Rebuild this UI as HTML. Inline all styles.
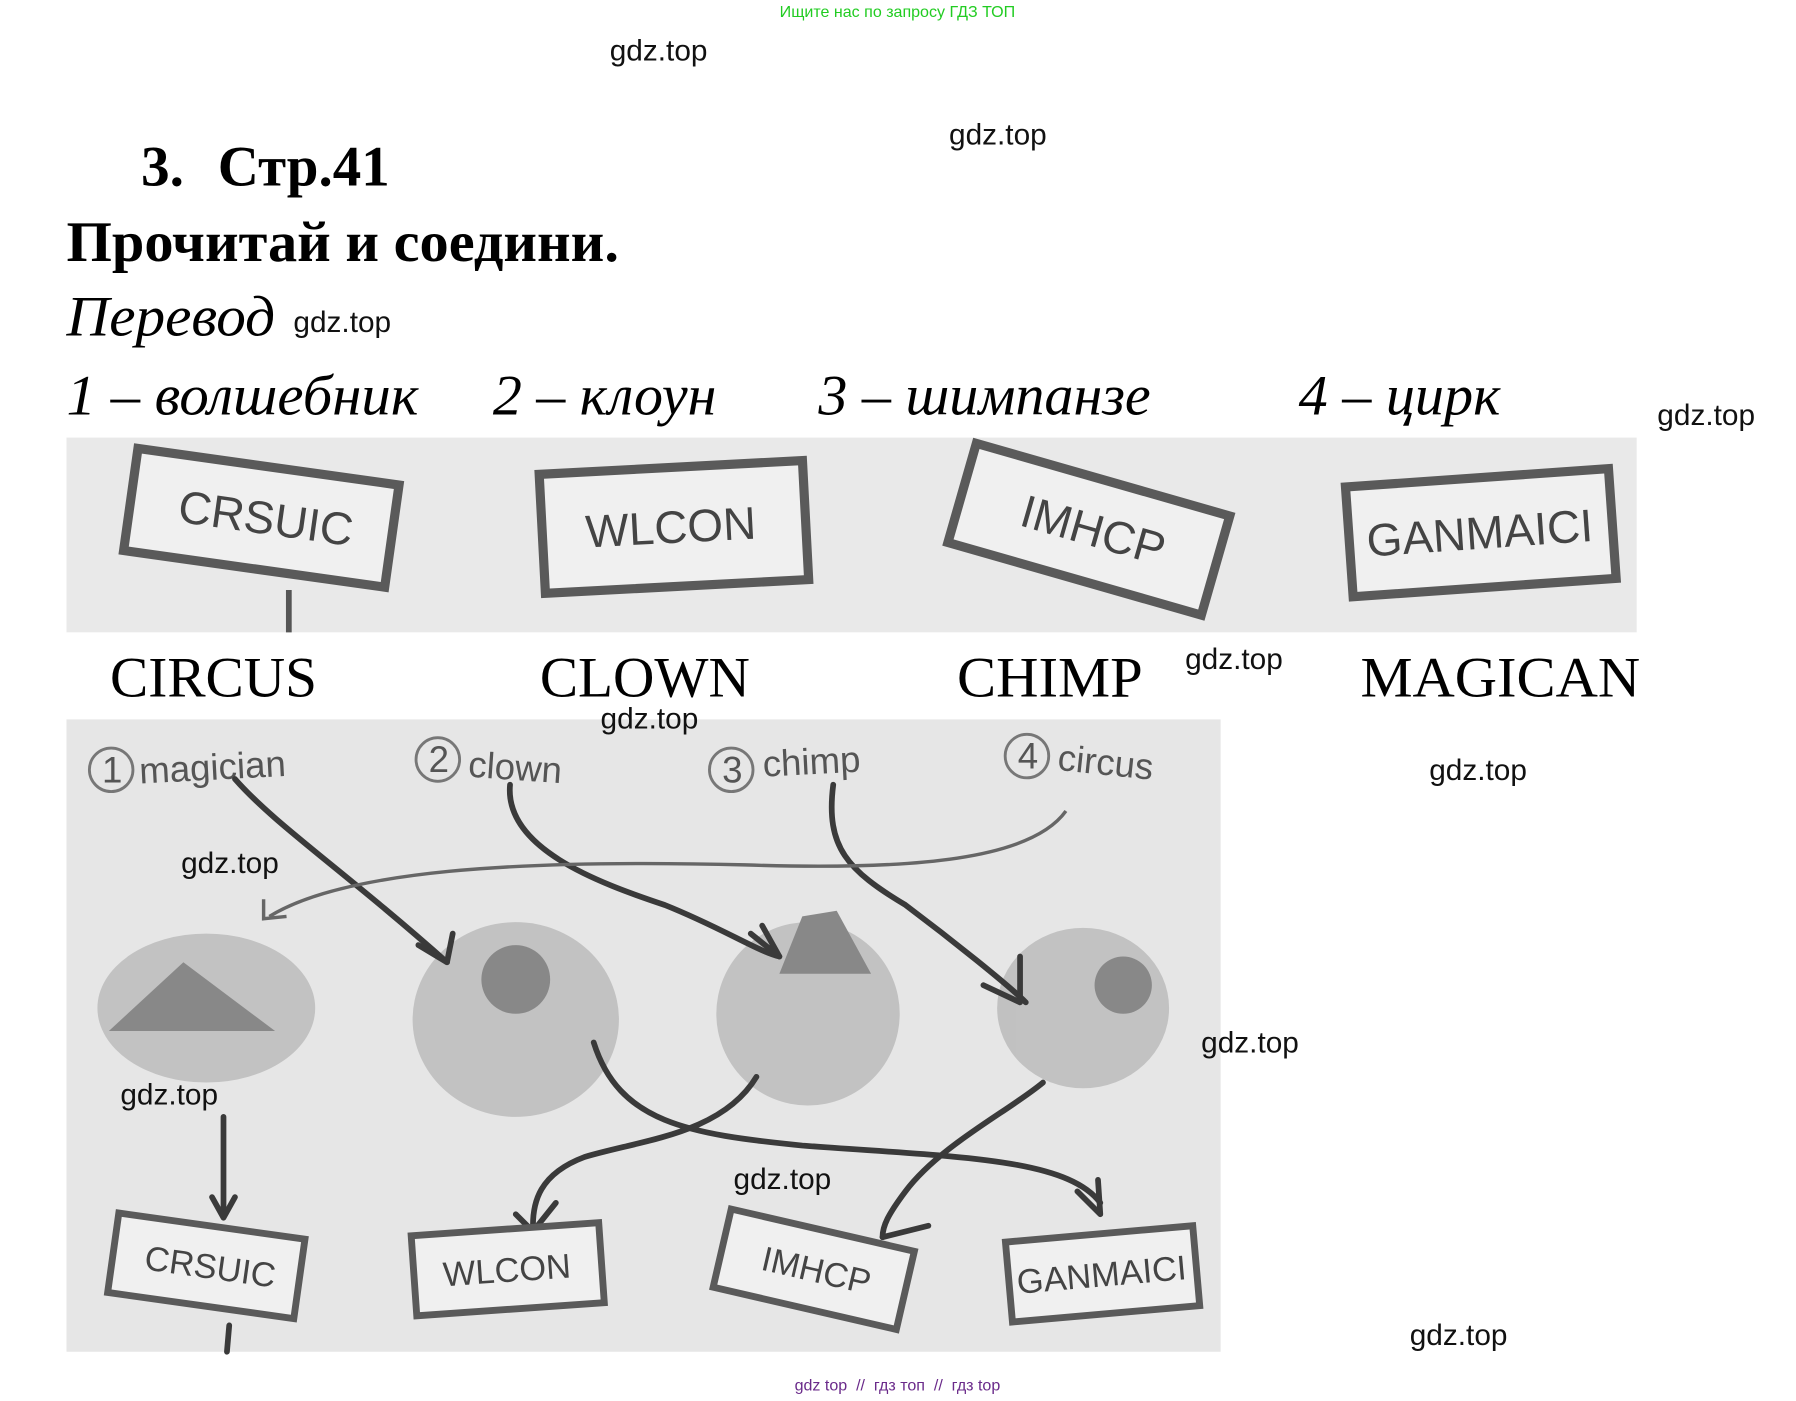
<!DOCTYPE html>
<html><head><meta charset="utf-8"><style>
html,body{margin:0;padding:0;background:#fff;width:1796px;height:1401px;overflow:hidden}
svg{display:block}
.w{font-family:"Liberation Sans",sans-serif;font-size:26px;fill:#111}
.s{font-family:"Liberation Serif",serif}
.b{font-family:"Liberation Sans",sans-serif;fill:#444;font-size:40px}
.bs{font-family:"Liberation Sans",sans-serif;fill:#444;font-size:30px}
.lb{font-family:"Liberation Sans",sans-serif;fill:#555;font-size:32px}
</style></head><body>
<svg width="1796" height="1401" viewBox="0 0 1567 1223" preserveAspectRatio="none" xmlns="http://www.w3.org/2000/svg">
<text x="783" y="15" text-anchor="middle" font-family="Liberation Sans,sans-serif" font-size="14" fill="#22cc22">Ищите нас по запросу ГДЗ ТОП</text>
<text class="w" x="532" y="53">gdz.top</text>
<text class="w" x="828" y="126">gdz.top</text>
<text class="s" x="123" y="162" font-size="50" font-weight="bold">3.</text>
<text class="s" x="190" y="162" font-size="50" font-weight="bold" textLength="150" lengthAdjust="spacingAndGlyphs">Стр.41</text>
<text class="s" x="58" y="228" font-size="50" font-weight="bold" textLength="482" lengthAdjust="spacingAndGlyphs">Прочитай и соедини.</text>
<text class="s" x="58" y="293" font-size="50" font-style="italic" textLength="182" lengthAdjust="spacingAndGlyphs">Перевод</text>
<text class="w" x="256" y="290">gdz.top</text>
<text class="s" x="58" y="362" font-size="50" font-style="italic" textLength="307" lengthAdjust="spacingAndGlyphs">1 – волшебник</text>
<text class="s" x="430" y="362" font-size="50" font-style="italic" textLength="195" lengthAdjust="spacingAndGlyphs">2 – клоун</text>
<text class="s" x="714" y="362" font-size="50" font-style="italic" textLength="290" lengthAdjust="spacingAndGlyphs">3 – шимпанзе</text>
<text class="s" x="1133" y="362" font-size="50" font-style="italic" textLength="176" lengthAdjust="spacingAndGlyphs">4 – цирк</text>
<text class="w" x="1446" y="371">gdz.top</text>
<rect x="58" y="382" width="1370" height="170" fill="#e9e9e9"/>
<line x1="252" y1="515" x2="252" y2="552" stroke="#555" stroke-width="5"/>
<g stroke="#5a5a5a" stroke-width="8" fill="#f0f0f0">
<rect x="-115" y="-45" width="230" height="90" transform="translate(228,452) rotate(8)"/>
<rect x="-115" y="-52" width="230" height="104" transform="translate(588,460) rotate(-3)"/>
<rect x="-115" y="-45" width="230" height="90" transform="translate(950,462) rotate(16)"/>
<rect x="-115" y="-48" width="230" height="96" transform="translate(1292,465) rotate(-4)"/>
</g>
<text class="b" text-anchor="middle" transform="translate(230,466) rotate(8)">CRSUIC</text>
<text class="b" text-anchor="middle" transform="translate(586,474) rotate(-3)">WLCON</text>
<text class="b" text-anchor="middle" transform="translate(950,476) rotate(16)">IMHCP</text>
<text class="b" text-anchor="middle" transform="translate(1292,479) rotate(-4)" font-size="36">GANMAICI</text>
<text class="s" x="96" y="608" font-size="50">CIRCUS</text>
<text class="s" x="471" y="608" font-size="50">CLOWN</text>
<text class="s" x="835" y="608" font-size="50" textLength="162" lengthAdjust="spacingAndGlyphs">CHIMP</text>
<text class="s" x="1187" y="608" font-size="50" textLength="244" lengthAdjust="spacingAndGlyphs">MAGICAN</text>
<text class="w" x="1034" y="584">gdz.top</text>
<rect x="58" y="628" width="1007" height="552" fill="#e6e6e6"/>
<text class="w" x="524" y="636">gdz.top</text>
<g fill="none" stroke="#777" stroke-width="2.5">
<circle cx="97" cy="672" r="19"/><circle cx="382" cy="663" r="19"/><circle cx="638" cy="672" r="19"/><circle cx="896" cy="660" r="19"/>
</g>
<text class="lb" x="89" y="683" font-size="26">1</text><text class="lb" x="374" y="674" font-size="26">2</text><text class="lb" x="630" y="683" font-size="26">3</text><text class="lb" x="888" y="671" font-size="26">4</text>
<text class="lb" x="122" y="684" transform="rotate(-3 122 684)">magician</text>
<text class="lb" x="408" y="678" transform="rotate(4 408 678)">clown</text>
<text class="lb" x="666" y="678" transform="rotate(-3 666 678)">chimp</text>
<text class="lb" x="922" y="672" transform="rotate(6 922 672)">circus</text>
<g fill="#bbb" opacity="0.85">
<ellipse cx="180" cy="880" rx="95" ry="65"/>
<ellipse cx="450" cy="890" rx="90" ry="85"/>
<ellipse cx="705" cy="885" rx="80" ry="80"/>
<ellipse cx="945" cy="880" rx="75" ry="70"/>
</g>
<g fill="#888"><path d="M95 900 L160 840 L240 900 Z"/><path d="M700 800 L730 795 L760 850 L680 850 Z"/><circle cx="450" cy="855" r="30"/><circle cx="980" cy="860" r="25"/></g>
<g fill="none" stroke="#3a3a3a" stroke-width="5" stroke-linecap="round" stroke-linejoin="round">
<path d="M205 680 C240 720 300 760 390 840"/><path d="M365 825 L390 840 L395 815"/>
<path d="M445 685 C440 740 520 770 580 790 C630 810 660 830 680 835"/><path d="M655 815 L680 835 L665 808"/>
<path d="M727 685 C720 740 740 760 790 790 C830 820 880 860 895 875"/><path d="M858 860 L890 875 L890 835"/>
<path d="M518 910 C540 980 600 990 700 1000 C830 1010 930 1010 960 1050"/><path d="M940 1040 L960 1060 L958 1030"/>
<path d="M660 940 C630 990 560 995 510 1010 C470 1025 465 1050 465 1070"/><path d="M450 1060 L465 1075 L485 1050"/>
<path d="M910 945 C880 970 820 1000 790 1040 C775 1060 770 1070 770 1080"/><path d="M770 1080 L810 1070"/>
<path d="M195 975 L195 1060"/><path d="M185 1045 L195 1063 L205 1045"/>
<line x1="200" y1="1157" x2="198" y2="1180"/>
</g>
<path d="M930 708 C900 750 800 760 650 755 C450 750 300 760 235 800" fill="none" stroke="#666" stroke-width="3"/>
<path d="M230 785 L230 802 L250 800" fill="none" stroke="#666" stroke-width="3"/>
<g stroke="#5a5a5a" stroke-width="6" fill="#f0f0f0">
<rect x="-82" y="-35" width="164" height="70" transform="translate(180,1105) rotate(8)"/>
<rect x="-82" y="-35" width="164" height="70" transform="translate(443,1108) rotate(-4)"/>
<rect x="-82" y="-35" width="164" height="70" transform="translate(710,1108) rotate(13)"/>
<rect x="-82" y="-35" width="164" height="70" transform="translate(962,1112) rotate(-5)"/>
</g>
<text class="bs" text-anchor="middle" transform="translate(182,1116) rotate(8)">CRSUIC</text>
<text class="bs" text-anchor="middle" transform="translate(443,1119) rotate(-4)">WLCON</text>
<text class="bs" text-anchor="middle" transform="translate(710,1119) rotate(13)">IMHCP</text>
<text class="bs" text-anchor="middle" transform="translate(962,1123) rotate(-5)" font-size="27">GANMAICI</text>
<text class="w" x="158" y="762">gdz.top</text>
<text class="w" x="105" y="964">gdz.top</text>
<text class="w" x="640" y="1038">gdz.top</text>
<text class="w" x="1048" y="919">gdz.top</text>
<text class="w" x="1247" y="681">gdz.top</text>
<text class="w" x="1230" y="1174">gdz.top</text>
<text x="783" y="1214" text-anchor="middle" font-family="Liberation Sans,sans-serif" font-size="14" fill="#6a2a8a" xml:space="preserve">gdz top  //  гдз топ  //  гдз top</text>
</svg>
</body></html>
